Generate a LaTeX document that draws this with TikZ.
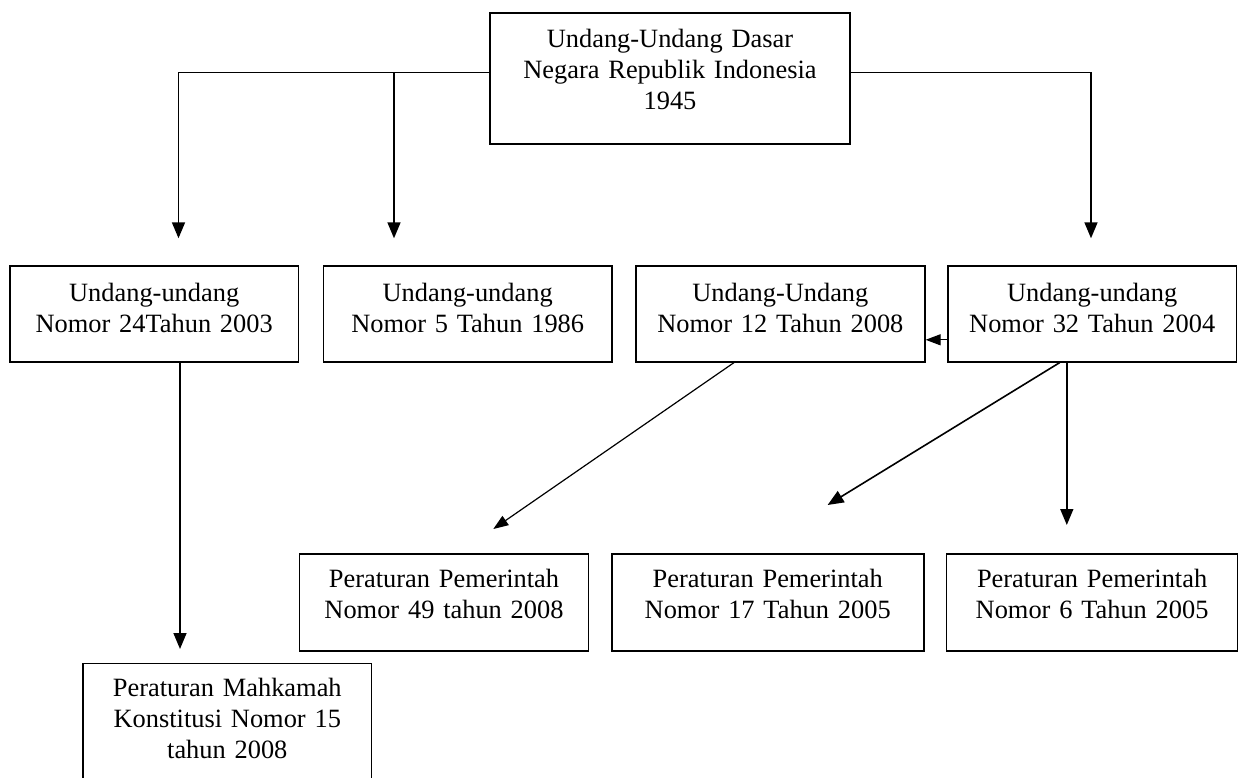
\documentclass[tikz,border=0pt]{standalone}
\usepackage{fontspec}
\setmainfont{Liberation Serif}
\usepackage{tikz}
\usetikzlibrary{arrows.meta}

\tikzset{
  box/.style={draw, line width=1.6pt, fill=white, text width=#1, align=center,
    inner xsep=0pt, inner ysep=0pt, anchor=north},
  arr/.style={-{Triangle[length=16pt,width=13pt]}, line width=1.6pt},
  thinarr/.style={-{Triangle[length=15pt,width=11pt]}, line width=1.2pt}
}

\begin{document}
\begin{tikzpicture}[x=1pt, y=-1pt, font=\fontsize{26.4}{31}\selectfont]
          \useasboundingbox (0,0) rectangle (1242,778);

          % Top
          \node[box=360pt, text height=34.4pt, text depth=96.6pt] (uud) at (670,12.3)
            {Undang-Undang Dasar\\Negara Republik Indonesia\\1945};

          % Undang-undang
          \node[box=288.6pt, text height=36pt, text depth=60pt] (uu24) at (154.2,265)
            {Undang-undang\\Nomor 24Tahun 2003};
          \node[box=288.6pt, text height=36pt, text depth=60pt] (uu5) at (467.7,265)
            {Undang-undang\\Nomor 5 Tahun 1986};
          \node[box=288.8pt, text height=36pt, text depth=60pt] (uu12) at (780.4,265)
            {Undang-Undang\\Nomor 12 Tahun 2008};
          \node[box=288.9pt, text height=36pt, text depth=60pt] (uu32) at (1092.2,265)
            {Undang-undang\\Nomor 32 Tahun 2004};

          % Peraturan
          \node[box=288.7pt, text height=33.4pt, text depth=63.3pt] (pp49) at (444,553.3)
            {Peraturan Pemerintah\\Nomor 49 tahun 2008};
          \node[box=312pt, text height=33.4pt, text depth=63.3pt] (pp17) at (767.7,553.3)
            {Peraturan Pemerintah\\Nomor 17 Tahun 2005};
          \node[box=291pt, text height=33.4pt, text depth=63.3pt] (pp6) at (1092.1,553.3)
            {Peraturan Pemerintah\\Nomor 6 Tahun 2005};
          \node[box=288.7pt, text height=33.3pt, text depth=130pt] (pmk) at (227.3,662.7)
            {Peraturan Mahkamah\\Konstitusi Nomor 15\\tahun 2008};

          % arrow ends
          \coordinate (in24) at (178.5,238.3);
          \coordinate (in5) at (394,238.3);
          \coordinate (in32) at (1091,238.3);
          \coordinate (in49) at (493.3,529);
          \coordinate (in17) at (827.6,505);
          \coordinate (in6) at (1066.8,525);
          \coordinate (inmk) at (180,649);

          \draw[arr] ([yshift=6.1pt]uud.west) -| (in24);
          \draw[arr] ([yshift=6.1pt]uud.west -| in5) -- (in5);
          \draw[arr] ([yshift=6.1pt]uud.east) -| (in32);

          \draw[thinarr] ([yshift=-26pt]uu32.west) -- ([yshift=-26pt]uu12.east);
          \draw[thinarr] ([xshift=-46.4pt]uu12.south) -- (in49);
          \draw[arr] ([xshift=-32.5pt]uu32.south) -- (in17);
          \draw[arr] (uu32.south -| in6) -- (in6);
          \draw[arr] (uu24.south -| inmk) -- (inmk);
        \end{tikzpicture}
\end{document}
